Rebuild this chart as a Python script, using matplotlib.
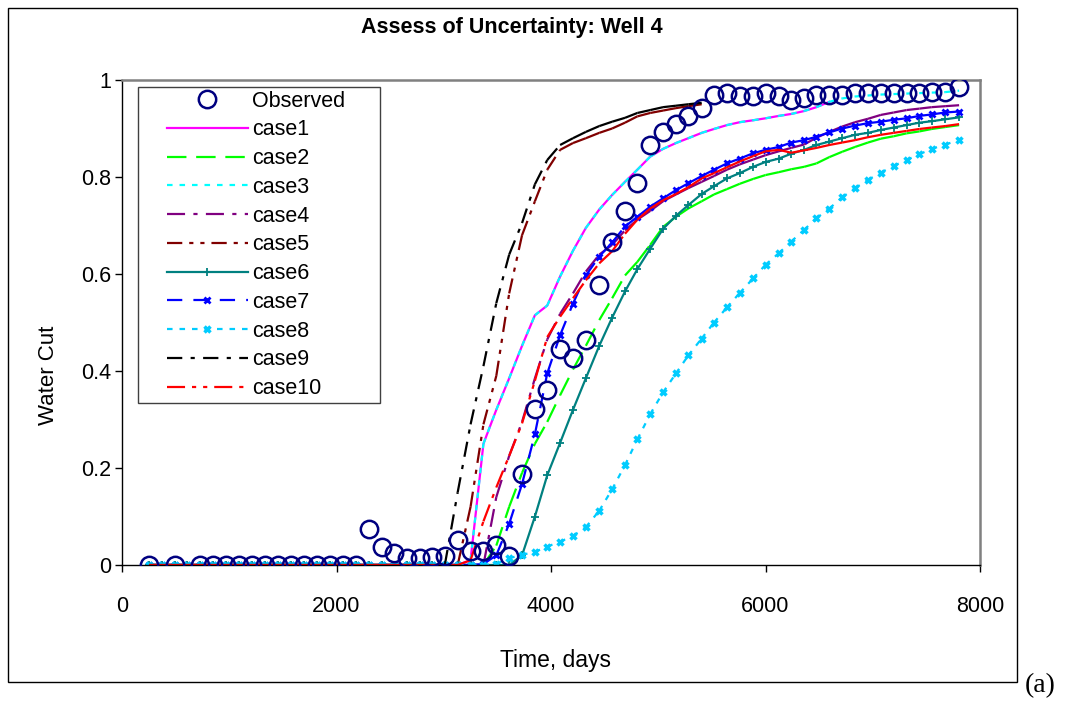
import numpy as np
import matplotlib.pyplot as plt
from matplotlib.patches import Rectangle
from matplotlib.lines import Line2D
from matplotlib.collections import LineCollection

plt.rcParams['font.family'] = ['Liberation Sans', 'DejaVu Sans']
plt.rcParams['lines.scale_dashes'] = False

nan = np.nan

### DATA ###
# observed water cut, days
obs_days = [250, 490, 730, 850, 970, 1090, 1210, 1335, 1455, 1575, 1695, 1820, 1940, 2060, 2180,
            2300, 2420, 2540, 2660, 2780, 2890, 3010, 3130, 3250, 3370, 3490, 3610, 3730, 3850,
            3965, 4085, 4205, 4325, 4450, 4570, 4690, 4805, 4925, 5045, 5165, 5280, 5405, 5520,
            5640, 5760, 5885, 6000, 6125, 6240, 6360, 6475, 6595, 6715, 6835, 6955, 7075, 7195,
            7315, 7435, 7550, 7675, 7805]
obs_wc = [0, 0, 0, 0, 0, 0, 0, 0, 0, 0, 0, 0, 0, 0, 0,
          0.075, 0.038, 0.025, 0.014, 0.014, 0.017, 0.018, 0.051, 0.029, 0.029, 0.041, 0.018, 0.187, 0.321,
          0.361, 0.445, 0.426, 0.464, 0.577, 0.665, 0.73, 0.788, 0.866, 0.893, 0.909, 0.926, 0.942, 0.969,
          0.973, 0.967, 0.967, 0.974, 0.967, 0.959, 0.962, 0.97, 0.97, 0.97, 0.973, 0.973, 0.974, 0.973,
          0.974, 0.974, 0.975, 0.975, 0.985]

# simulation report times
sim_days = [250, 370, 490, 610, 730, 850, 970, 1090, 1210, 1335, 1455, 1575, 1695, 1820, 1940,
            2060, 2180, 2300, 2420, 2540, 2660, 2780, 2890,
            3010, 3130, 3250, 3370, 3490, 3610, 3730, 3850, 3965, 4085, 4205, 4325, 4450, 4570,
            4690, 4805, 4925, 5045, 5165, 5280, 5405, 5520, 5640, 5760, 5885, 6000, 6125, 6240,
            6360, 6475, 6595, 6715, 6835, 6955, 7075, 7195, 7315, 7435, 7550, 7675, 7805]
lead = [0.0] * 23  # every run reads 0 up to 2890 days

case1 = lead + [0, 0, 0.01, 0.25, 0.32, 0.385, 0.452, 0.515, 0.535, 0.595, 0.648, 0.695, 0.733, 0.763,
                0.79, 0.815, 0.842, 0.858, 0.87, 0.88, 0.891, 0.899, 0.907, 0.913, 0.917, 0.921, 0.926,
                0.93, 0.936, 0.944, 0.955, nan, nan, nan, nan, nan, nan, nan, nan, nan, nan]
case2 = lead + [0, 0, 0, 0, 0.04, 0.12, 0.19, 0.25, 0.295, 0.35, 0.403, 0.452, 0.505, 0.55,
                0.597, 0.625, 0.66, 0.697, 0.718, 0.735, 0.75, 0.764, 0.775, 0.786, 0.796, 0.804, 0.81,
                0.816, 0.821, 0.828, 0.841, 0.852, 0.862, 0.871, 0.879, 0.884, 0.89, 0.894, 0.899, 0.903, 0.907]
case3 = lead + [0, 0, 0.01, 0.25, 0.32, 0.385, 0.452, 0.515, 0.535, 0.595, 0.648, 0.695, 0.733, 0.763,
                0.79, 0.815, 0.842, 0.858, 0.87, 0.88, 0.891, 0.899, 0.907, 0.913, 0.917, 0.921, 0.926,
                0.93, 0.936, 0.944, 0.955, 0.962, 0.966, 0.968, 0.97, 0.971, 0.972, 0.973, 0.974, 0.975, 0.978]
case4 = lead + [0, 0, 0, 0, 0.14, 0.225, 0.295, 0.385, 0.465, 0.518, 0.56, 0.605, 0.64, 0.66,
                0.69, 0.712, 0.73, 0.75, 0.764, 0.777, 0.79, 0.802, 0.815, 0.826, 0.836, 0.845, 0.853,
                0.86, 0.867, 0.881, 0.893, 0.904, 0.913, 0.92, 0.928, 0.933, 0.938, 0.941, 0.944, 0.946, 0.948]
case5 = lead + [0, 0, 0.12, 0.29, 0.39, 0.56, 0.68, 0.75, 0.815, 0.856, 0.87, 0.88, 0.891, 0.9,
                0.912, 0.925, 0.932, 0.937, 0.942, 0.946, 0.95, nan, nan, nan, nan, nan, nan,
                nan, nan, nan, nan, nan, nan, nan, nan, nan, nan, nan, nan, nan, nan]
case6 = lead + [0, 0, 0, 0, 0, 0, 0.02, 0.1, 0.185, 0.252, 0.32, 0.385, 0.452, 0.51,
                0.564, 0.61, 0.652, 0.693, 0.72, 0.742, 0.765, 0.781, 0.797, 0.808, 0.821, 0.831, 0.838,
                0.848, 0.856, 0.866, 0.873, 0.88, 0.887, 0.891, 0.897, 0.902, 0.907, 0.912, 0.915, 0.919, 0.923]
case7 = lead + [0, 0, 0, 0.002, 0.02, 0.085, 0.167, 0.27, 0.395, 0.474, 0.539, 0.597, 0.636, 0.665,
                0.698, 0.718, 0.739, 0.756, 0.773, 0.787, 0.802, 0.815, 0.828, 0.838, 0.849, 0.856, 0.862,
                0.871, 0.876, 0.883, 0.892, 0.9, 0.906, 0.911, 0.914, 0.918, 0.921, 0.926, 0.929, 0.933, 0.935]
case8 = lead + [0, 0, 0, 0, 0.002, 0.014, 0.021, 0.027, 0.038, 0.048, 0.06, 0.078, 0.112, 0.156,
                0.206, 0.259, 0.311, 0.356, 0.395, 0.432, 0.467, 0.5, 0.531, 0.561, 0.591, 0.619, 0.643,
                0.667, 0.691, 0.715, 0.735, 0.758, 0.777, 0.794, 0.809, 0.823, 0.835, 0.847, 0.858, 0.867, 0.876]
case9 = lead + [0, 0.15, 0.29, 0.41, 0.54, 0.64, 0.705, 0.785, 0.835, 0.866, 0.88, 0.893, 0.905, 0.914,
                0.922, 0.932, 0.938, 0.944, 0.947, 0.95, 0.953, nan, nan, nan, nan, nan, nan,
                nan, nan, nan, nan, nan, nan, nan, nan, nan, nan, nan, nan, nan, nan]
case10 = lead + [0, 0, 0.01, 0.09, 0.16, 0.225, 0.292, 0.38, 0.47, 0.512, 0.55, 0.587, 0.622, 0.647,
                 0.683, 0.712, 0.735, 0.752, 0.765, 0.779, 0.797, 0.808, 0.82, 0.832, 0.843, 0.853, 0.856,
                 0.85, 0.855, 0.86, 0.866, 0.871, 0.876, 0.882, 0.887, 0.891, 0.895, 0.899, 0.902, 0.905, 0.909]

x_ticks = [0, 2000, 4000, 6000, 8000]
y_ticks = [0, 0.2, 0.4, 0.6, 0.8, 1]
y_tick_labels = ['0', '0.2', '0.4', '0.6', '0.8', '1']

### STYLES ###
# (label, values, colour, dash pattern in points or None for solid, marker, marker size, marker edge width)
styles = [
    ('case1', case1, '#ff00ff', None, None, 0, 0),
    ('case2', case2, '#00ff00', (14, 7), None, 0, 0),
    ('case3', case3, '#00ffff', (4, 5), None, 0, 0),
    ('case4', case4, '#800080', (13, 6, 3, 6), None, 0, 0),
    ('case5', case5, '#800000', (11, 5, 3, 5, 3, 5), None, 0, 0),
    ('case6', case6, '#008080', None, '+', 6, 1.3),
    ('case7', case7, '#0000ff', (11, 8), 'x', 5, 2),
    ('case8', case8, '#00ccff', (4, 5), 'x', 5, 2.5),
    ('case9', case9, '#000000', (11, 6, 3, 6), None, 0, 0),
    ('case10', case10, '#ff0000', (13, 5, 3, 5, 3, 5), None, 0, 0),
]
LW = 1.6


def segments(xs, ys):
    # one path per pair of neighbouring points, so the dash pattern restarts at every point (Excel style)
    segs = []
    for i in range(len(xs) - 1):
        if np.isnan(ys[i]) or np.isnan(ys[i + 1]):
            continue
        segs.append([(xs[i], ys[i]), (xs[i + 1], ys[i + 1])])
    return segs


def main():
    fig = plt.figure(figsize=(10.65, 7.02), dpi=100)
    ax = fig.add_axes([122 / 1065, 1 - 565 / 702, 858 / 1065, 485 / 702])

    handles = []
    h, = ax.plot(obs_days, obs_wc, ls='none', marker='o', ms=12.5, mfc='none',
                 mec='#000080', mew=1.8, zorder=5, label='Observed')
    handles.append(h)

    for k, (name, vals, color, dashes, marker, ms, mew) in enumerate(styles):
        z = 2 + k * 0.01
        if dashes is None:
            ax.plot(sim_days, vals, color=color, lw=LW, ls='-', zorder=z)
            ls = '-'
        else:
            lc = LineCollection(segments(sim_days, vals), colors=color, linewidths=LW,
                                linestyles=[(0, dashes)], zorder=z)
            ax.add_collection(lc)
            ls = (0, dashes)
        if marker is not None:
            ax.plot(sim_days, vals, ls='none', marker=marker, ms=ms, mew=mew, color=color, zorder=z)
        handles.append(Line2D([], [], color=color, lw=LW, ls=ls, marker=marker,
                              ms=ms, mew=mew, label=name))

    ax.set_xlim(0, 8000)
    ax.set_ylim(0, 1)
    ax.set_xticks(x_ticks)
    ax.set_yticks(y_ticks)
    ax.set_yticklabels(y_tick_labels)
    ax.tick_params(axis='both', direction='out', length=5, width=1, labelsize=15.5)
    ax.tick_params(axis='x', pad=17)
    ax.tick_params(axis='y', pad=3)

    for s in ['top', 'right']:
        ax.spines[s].set_color('#808080')
        ax.spines[s].set_linewidth(1.8)
    for s in ['left', 'bottom']:
        ax.spines[s].set_color('black')
        ax.spines[s].set_linewidth(1)

    # legend without frame, frame drawn separately (wider left padding than matplotlib allows)
    leg = ax.legend(handles=handles, loc='upper left', bbox_to_anchor=(0.0524, 0.978),
                    borderaxespad=0, borderpad=0, fontsize=15.5, handlelength=3.75,
                    handletextpad=0.2, labelspacing=0.36, frameon=False, numpoints=1)
    leg.set_zorder(6)
    ax.add_patch(Rectangle((0.01865, 0.334), 0.282, 0.6515, transform=ax.transAxes,
                           facecolor='white', edgecolor='#404040', lw=1, zorder=5.5))

    fig.text(512 / 1065, 1 - 27 / 702, 'Assess of Uncertainty: Well 4', ha='center', va='center',
             fontsize=15.5, fontweight='bold')
    fig.text(48 / 1065, 1 - 375 / 702, 'Water Cut', rotation=90, ha='center', va='center', fontsize=16)
    fig.text(555 / 1065, 1 - 660 / 702, 'Time, days', ha='center', va='center', fontsize=16.5)
    fig.text(1040 / 1065, 1 - 686 / 702, '(a)', ha='center', va='center', fontsize=20,
             family=['Liberation Serif', 'DejaVu Serif'])

    fig.patches.append(Rectangle((8 / 1065, 1 - 682 / 702), 1009 / 1065, 674 / 702,
                                 transform=fig.transFigure, fill=False, edgecolor='black', lw=1))

    fig.savefig('out.png', dpi=100)


if __name__ == "__main__":
    main()
